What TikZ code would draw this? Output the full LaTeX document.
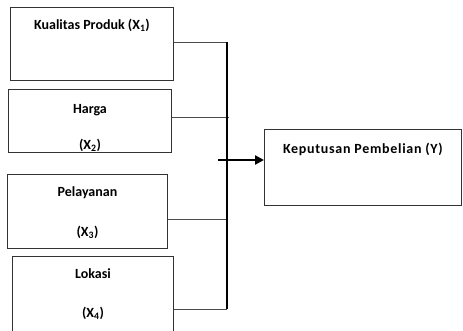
\documentclass[tikz,border=0pt]{standalone}
\usepackage{fontspec}
\setmainfont{Carlito}
\usetikzlibrary{positioning,arrows.meta}

\begin{document}
\begin{tikzpicture}[
  x=1pt,y=-1pt,
  varbox/.style={draw=black!80,line width=0.9pt,rectangle,anchor=north west,inner sep=0pt},
  varlabel/.style={font=\bfseries\fontsize{14}{16}\selectfont,inner sep=0pt},
  ]
  \useasboundingbox (0,0) rectangle (463,331);
  %Nodes
  \node[varbox,minimum width=163,minimum height=73](x1) at (10,7){};
  \node[varbox,minimum width=163,minimum height=63](x2) at (8,89){};
  \node[varbox,minimum width=160,minimum height=74](x3) at (7,174){};
  \node[varbox,minimum width=161,minimum height=90](x4) at (12,256){};
  \node[varbox,minimum width=197,minimum height=76](y) at (264,129){};
  \node[varlabel,below=12pt of x1.north](t1){Kualitas Produk (X\textsubscript{1})};
  \node[varlabel,below=15pt of x2.north](t2){Harga};
  \node[varlabel,above=1.5pt of x2.south](t2b){(X\textsubscript{2})};
  \node[varlabel,below=12pt of x3.north](t3){Pelayanan};
  \node[varlabel,above=10pt of x3.south](t3b){(X\textsubscript{3})};
  \node[varlabel,below=12pt of x4.north](t4){Lokasi};
  \node[varlabel,below=51pt of x4.north](t4b){(X\textsubscript{4})};
  \node[varlabel,below=14pt of y.north](ty){\addfontfeature{LetterSpace=5}Keputusan Pembelian (Y)};
  %Coordinates
  \coordinate(j1) at (227,42);
  \coordinate(j2) at (229,117);
  \coordinate(j3) at (228,219);
  \coordinate(j4) at (227,309);
  \coordinate(tail) at (218,160);
  %Lines
  \draw[black!70,line width=0.8pt]
    (x1.east |- j1) -- (j1)
    (x2.east |- j2) -- (j2)
    (x3.east |- j3) -- (j3)
    (x4.east |- j4) -- (j4)
    ;
  \draw[black,line width=1.3pt] (j1) -- (j4);
  \draw[black,line width=2.6pt,-{Triangle[length=9pt,width=9pt]}] (tail) -- (y.west |- tail);
\end{tikzpicture}
\end{document}
